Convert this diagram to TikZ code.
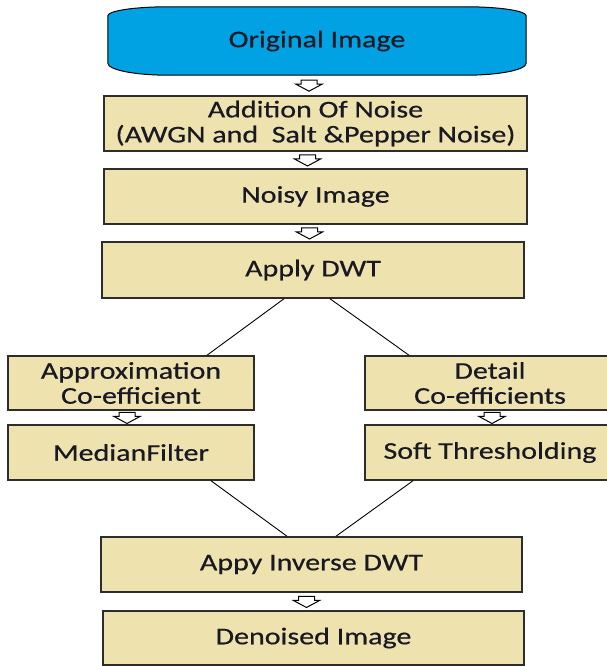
\documentclass[tikz,border=0pt]{standalone}
\usepackage{fontspec}
\setmainfont{Carlito}[FakeStretch=1.25, FakeBold=0.5]
\usetikzlibrary{calc,backgrounds}

\definecolor{boxfill}{RGB}{238,226,174}
\definecolor{startfill}{RGB}{0,162,228}
\definecolor{boxline}{RGB}{45,45,45}
\definecolor{ink}{RGB}{25,25,35}

\tikzset{
	block/.style={draw=boxline, line width=1.5pt, fill=boxfill, align=center, text=ink,
		font=\fontsize{24}{25}\selectfont, minimum height=55pt, inner sep=0pt},
	startblock/.style={align=center, text=ink, font=\fontsize{24}{25}\selectfont,
		minimum width=418pt, minimum height=68pt, inner sep=0pt},
	startshape/.style={draw=black, line width=1pt, fill=startfill},
	hollow/.style={draw=black, line width=1pt, fill=white, line join=miter},
	link/.style={draw=black, line width=0.9pt}
}

% hollow block arrow in the gap between two boxes
\newcommand{\flowarrow}[3][0]{%
	\coordinate (amid) at ($(#2.south)!0.5!(#2.south |- #3.north) + (#1,0)$);
	\draw[hollow] ($(amid)+(-8,5)$) -- ($(amid)+(8,5)$) -- ($(amid)+(8,1)$) -- ($(amid)+(13,1)$)
		-- ($(amid)+(0,-6)$) -- ($(amid)+(-13,1)$) -- ($(amid)+(-8,1)$) -- cycle;
}

\begin{document}
\begin{tikzpicture}[x=1pt, y=1pt]

	\useasboundingbox (0,0) rectangle (606,666);

	% main column
	\node [startblock] (orig) at (317,625) {Original Image};
	\node [block, minimum width=423pt] (noise) at (315.5,542.5) {Addition Of Noise\\(AWGN and~ Salt \&Pepper Noise)};
	\node [block, minimum width=423pt] (noisy) at (315.5,469.5) {Noisy Image};
	\node [block, minimum width=422pt, minimum height=56pt] (dwt) at (313,396) {Apply DWT};

	% two branches
	\node [block, minimum width=246pt, minimum height=54pt] (approx) at (131,283) {Approximation\\Co-efficient};
	\node [block, minimum width=246pt] (median) at (131,213.5) {MedianFilter};
	\node [block, minimum width=250pt, minimum height=54pt] (detail) at (490,283) {Detail\\Co-efficients};
	\node [block, minimum width=250pt] (soft) at (490,213.5) {Soft Thresholding};

	% back together
	\node [block, minimum width=421pt] (inv) at (311.5,101.5) {Appy Inverse DWT};
	\node [block, minimum width=421pt, minimum height=54pt] (den) at (313.5,28) {Denoised Image};

	\begin{scope}[on background layer]
		\draw [startshape] ([yshift=-9pt]orig.north west)
			arc [start angle=180, end angle=90, x radius=60pt, y radius=9pt]
			-- ([xshift=-60pt]orig.north east)
			arc [start angle=90, end angle=0, x radius=60pt, y radius=9pt]
			-- ([yshift=12pt]orig.south east)
			arc [start angle=0, end angle=-90, x radius=60pt, y radius=12pt]
			-- ([xshift=60pt]orig.south west)
			arc [start angle=270, end angle=180, x radius=60pt, y radius=12pt]
			-- cycle;
	\end{scope}

	\flowarrow[-8]{orig}{noise}
	\flowarrow[-8]{noise}{noisy}
	\flowarrow[-6]{noisy}{dwt}
	\flowarrow[-4]{approx}{median}
	\flowarrow[2]{detail}{soft}
	\flowarrow[-5]{inv}{den}

	\draw [link] ($(dwt.south)+(-29,0)$) -- ($(approx.north)+(76,0)$);
	\draw [link] ($(dwt.south)+(17,0)$) -- ($(detail.north)+(-81,0)$);
	\draw [link] ($(median.south)+(80,0)$) -- ($(inv.north)+(-24.5,0)$);
	\draw [link] ($(soft.south)+(-77,0)$) -- ($(inv.north)+(24.5,0)$);

\end{tikzpicture}
\end{document}
